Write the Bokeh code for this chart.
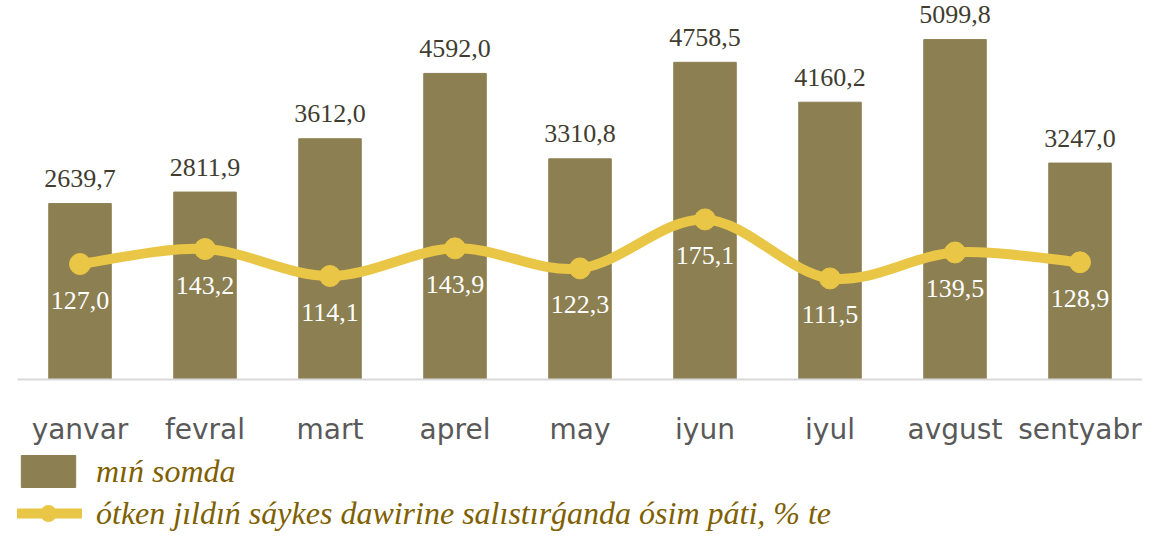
import numpy as np
from bokeh.plotting import figure
from bokeh.layouts import column
from bokeh.models import ColumnDataSource, Range1d, FactorRange, Legend, LegendItem
from bokeh.embed import file_html
from bokeh.resources import INLINE
from bokeh.core.properties import value

months = ["yanvar", "fevral", "mart", "aprel", "may", "iyun", "iyul", "avgust", "sentyabr"]
amounts = [2639.7, 2811.9, 3612.0, 4592.0, 3310.8, 4758.5, 4160.2, 5099.8, 3247.0]
growth = [127.0, 143.2, 114.1, 143.9, 122.3, 175.1, 111.5, 139.5, 128.9]
bar_name = "mıń somda"
line_name = "ótken jıldıń sáykes dawirine salıstırǵanda ósim páti, % te"

BAR_COLOR = "#8C7F52"
LINE_COLOR = "#EAC646"
LEGEND_TEXT = "#7F6000"


def fmt(v):
    return f"{v:.1f}".replace(".", ",")


src = ColumnDataSource(dict(
    month=months,
    amount=amounts,
    growth=growth,
    amount_lbl=[fmt(v) for v in amounts],
    growth_lbl=[fmt(v) for v in growth],
))

p = figure(
    x_range=FactorRange(*months),
    y_range=Range1d(0, 5686),
    frame_width=1125,
    frame_height=379,
    min_border_left=17,
    min_border_right=0,
    min_border_top=0,
    min_border_bottom=0,
    output_backend="svg",
    toolbar_location=None,
    y_axis_location=None,
)
p.extra_y_ranges = {"pct": Range1d(2.6, 411.0)}
p.outline_line_color = None
p.xgrid.visible = False
p.ygrid.visible = False
p.background_fill_color = "white"
p.border_fill_color = "white"

p.vbar(x="month", top="amount", width=0.5, source=src,
       fill_color=BAR_COLOR, line_color=BAR_COLOR)

# smooth curve through the growth values (cubic Bezier segments built from the data)
xs = np.arange(len(months)) + 0.5
ys = np.array(growth)
n = len(xs)
x0, y0, x1, y1, cx0, cy0, cx1, cy1 = ([] for _ in range(8))
for i in range(n - 1):
    ia, ib, ic, idd = max(i - 1, 0), i, i + 1, min(i + 2, n - 1)
    x0.append(xs[ib]); y0.append(ys[ib])
    x1.append(xs[ic]); y1.append(ys[ic])
    cx0.append(xs[ib] + (xs[ic] - xs[ia]) / 6.0)
    cy0.append(ys[ib] + (ys[ic] - ys[ia]) / 6.0)
    cx1.append(xs[ic] - (xs[idd] - xs[ib]) / 6.0)
    cy1.append(ys[ic] - (ys[idd] - ys[ib]) / 6.0)
p.bezier(x0=x0, y0=y0, x1=x1, y1=y1, cx0=cx0, cy0=cy0, cx1=cx1, cy1=cy1,
         line_color=LINE_COLOR, line_width=10, y_range_name="pct")
p.scatter(x="month", y="growth", source=src, size=21, marker="circle",
          fill_color=LINE_COLOR, line_color=LINE_COLOR, y_range_name="pct")

p.text(x="month", y="amount", text="amount_lbl", source=src,
       text_align="center", text_baseline="alphabetic", y_offset=-25,
       text_font=value("Liberation Serif"), text_font_size="26px",
       text_color="#403D30")
p.text(x="month", y="growth", text="growth_lbl", source=src, y_range_name="pct",
       text_align="center", text_baseline="alphabetic", y_offset=36,
       text_font=value("Liberation Serif"), text_font_size="26px",
       text_color="white")

ax = p.xaxis[0]
ax.axis_line_color = "#D9D9D9"
ax.axis_line_width = 2
ax.major_tick_line_color = None
ax.minor_tick_line_color = None
ax.major_tick_out = 0
ax.major_tick_in = 0
ax.major_label_standoff = 33
ax.major_label_text_font = "DejaVu Sans"
ax.major_label_text_font_size = "28px"
ax.major_label_text_color = "#595959"

# legend panel below the chart: the same series placed far out of view, used only as legend keys
q = figure(
    width=1142, height=85,
    x_range=Range1d(0, 1), y_range=Range1d(0, 1),
    min_border_left=0, min_border_right=0, min_border_top=0, min_border_bottom=0,
    output_backend="svg", toolbar_location=None,
    x_axis_location=None, y_axis_location=None,
)
q.outline_line_color = None
q.xgrid.visible = False
q.ygrid.visible = False
q.background_fill_color = "white"
q.border_fill_color = "white"
lg_bar = q.vbar(x="growth", top="amount", bottom="amount", width=0.5, source=src,
                fill_color=BAR_COLOR, line_color=BAR_COLOR)
lg_line = q.line(x="growth", y="amount", source=src, line_color=LINE_COLOR, line_width=10)
lg_dot = q.scatter(x="growth", y="amount", source=src, size=21, marker="circle",
                   fill_color=LINE_COLOR, line_color=LINE_COLOR)

legend = Legend(
    items=[LegendItem(label=bar_name, renderers=[lg_bar]),
           LegendItem(label=line_name, renderers=[lg_line, lg_dot])],
    location=(-3, 0), orientation="vertical",
    glyph_width=68, glyph_height=40, label_height=40, label_standoff=14,
    spacing=2, padding=0, margin=0,
    border_line_color=None, background_fill_alpha=0,
    label_text_font="Liberation Serif", label_text_font_style="italic",
    label_text_font_size="32px", label_text_color=LEGEND_TEXT,
)
q.add_layout(legend, "center")

layout = column(p, q, spacing=0)
open("out.html", "w").write(file_html(layout, INLINE))
